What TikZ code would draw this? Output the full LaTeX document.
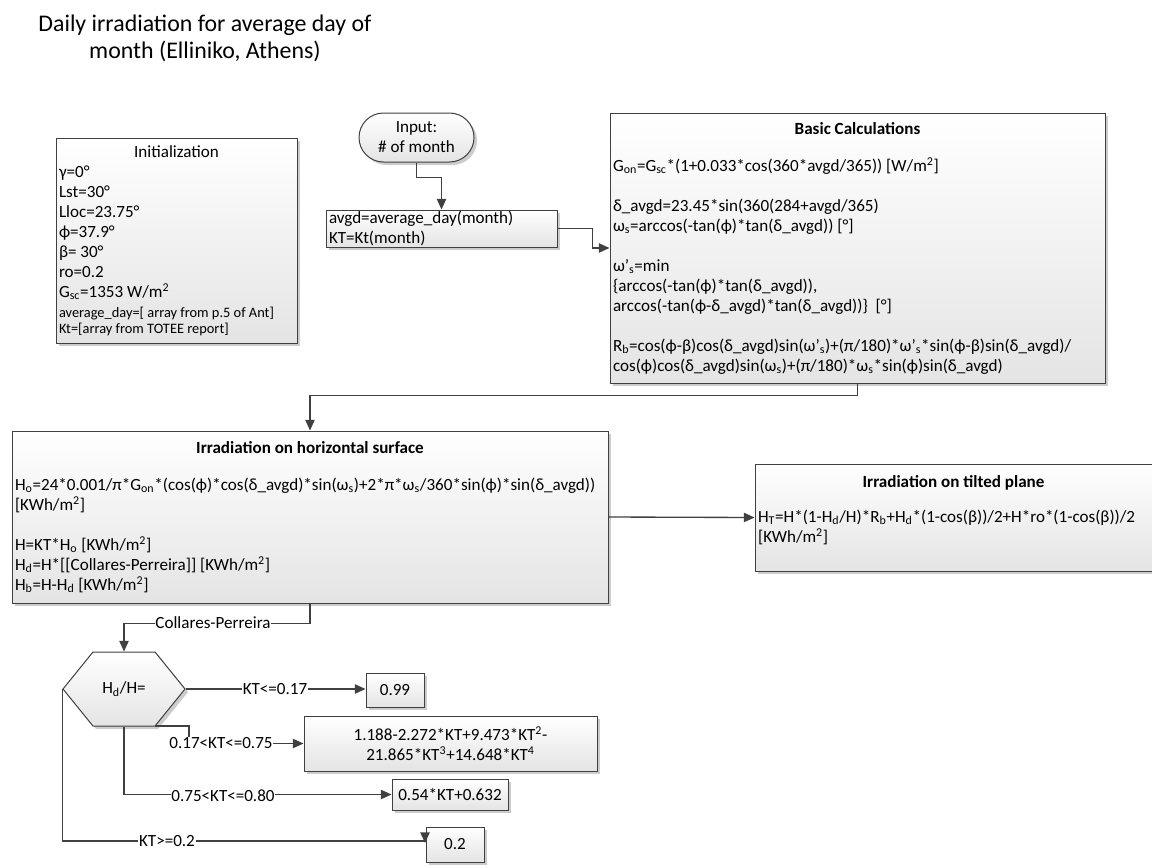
\documentclass[tikz,border=0pt]{standalone}
\usepackage{fontspec}
\setmainfont{Carlito}
\usetikzlibrary{arrows.meta,shapes.misc,shapes.symbols,shadows}
\definecolor{linegray}{HTML}{404040}
\definecolor{fillgray}{HTML}{E4E4E4}
\newcommand{\smalltxt}{\fontsize{10.8}{12}\selectfont}

\begin{document}
\begin{tikzpicture}[x=0.75pt,y=-0.75pt,
  every node/.style={font=\fontsize{12.8}{15}\selectfont,
    execute at begin node={\spaceskip=0pt\xspaceskip=0pt}},
  box/.style={draw=linegray,line width=0.75pt,top color=white,bottom color=fillgray,
    drop shadow={shadow xshift=2.25pt,shadow yshift=-2.25pt,fill=black!40,opacity=0.5},
    inner xsep=2.25pt,inner ysep=0pt,align=left},
  conn/.style={draw=linegray,line width=1pt,-{Triangle[length=8pt,width=7pt]}},
  lbl/.style={fill=white,inner sep=0.5pt}]
\useasboundingbox (0,0) rectangle (1152,867);

% title
\node[font=\fontsize{17.9}{20.25}\selectfont,align=center] (title) at (205,38)
  {Daily irradiation for average day of\\month (Elliniko, Athens)};

% boxes
\node[box,minimum width=180.75pt,minimum height=153.75pt,text width=176.25pt] (init) at (176.5,240.5)
  {\hfill Initialization\hfill\mbox{}\\
   γ=0°\\
   Lst=30°\\
   Lloc=23.75°\\
   ϕ=37.9°\\
   β= 30°\\
   ro=0.2\\
   G\textsubscript{sc}=1353 W/m\textsuperscript{2}\\
   {\smalltxt average\_day=[ array from p.5 of Ant]}\\[-3pt]
   {\smalltxt Kt=[array from TOTEE report]}};
\node[box,shape=rounded rectangle,align=center,minimum width=90.75pt,minimum height=36.75pt] (inp) at (416.5,137.5)
  {Input:\\\# of month};
\node[box,minimum width=173.25pt,minimum height=27.75pt,text width=168.75pt] (avgd) at (441.5,228.5)
  {avgd=average\_day(month)\\KT=Kt(month)};
\node[box,minimum width=371.25pt,minimum height=202.5pt,text width=366.75pt] (calc) at (857.5,248)
  {\hfill\textbf{Basic Calculations}\hfill\mbox{}\\[12.75pt]
   G\textsubscript{on}=G\textsubscript{sc}*(1+0.033*cos(360*avgd/365)) [W/m\textsuperscript{2}]\\[15pt]
   δ\_avgd=23.45*sin(360(284+avgd/365)\\
   ω\textsubscript{s}=arccos(-tan(ϕ)*tan(δ\_avgd)) [°]\\[15pt]
   ω’\textsubscript{s}=min\\
   \{arccos(-tan(ϕ)*tan(δ\_avgd)),\\
   arccos(-tan(ϕ-δ\_avgd)*tan(δ\_avgd))\}~~[°]\\[15pt]
   R\textsubscript{b}=cos(ϕ-β)cos(δ\_avgd)sin(ω’\textsubscript{s})+(π/180)*ω’\textsubscript{s}*sin(ϕ-β)sin(δ\_avgd)/\\
   cos(ϕ)cos(δ\_avgd)sin(ω\textsubscript{s})+(π/180)*ω\textsubscript{s}*sin(ϕ)sin(δ\_avgd)};
\node[box,minimum width=447pt,minimum height=129pt,text width=442.5pt] (hor) at (310,517)
  {\hfill\textbf{Irradiation on horizontal surface}\hfill\mbox{}\\[12.75pt]
   H\textsubscript{o}=24*0.001/π*G\textsubscript{on}*(cos(ϕ)*cos(δ\_avgd)*sin(ω\textsubscript{s})+2*π*ω\textsubscript{s}/360*sin(ϕ)*sin(δ\_avgd))\\
   {[}KWh/m\textsuperscript{2}]\\[15pt]
   H=KT*H\textsubscript{o} [KWh/m\textsuperscript{2}]\\
   H\textsubscript{d}=H*[[Collares-Perreira]] [KWh/m\textsuperscript{2}]\\
   H\textsubscript{b}=H-H\textsubscript{d} [KWh/m\textsuperscript{2}]};
\node[box,minimum width=297.75pt,minimum height=80.25pt,text width=293.25pt] (tilt) at (953.5,517.5)
  {\hfill\textbf{Irradiation on tilted plane}\hfill\mbox{}\\[11.25pt]
   H\textsubscript{T}=H*(1-H\textsubscript{d}/H)*R\textsubscript{b}+H\textsubscript{d}*(1-cos(β))/2+H*ro*(1-cos(β))/2\\
   {[}KWh/m\textsuperscript{2}]\\[-1.5pt]
   \mbox{}};

% decision and values
\node[box,shape=signal,signal to=west and east,signal pointer angle=102,align=center,
  minimum width=91.5pt,minimum height=55.5pt] (hex) at (124,689) {H\textsubscript{d}/H=};
\node[box,align=center,minimum width=43.5pt,minimum height=25.5pt] (v1) at (395,690) {0.99};
\node[box,align=center,minimum width=219.75pt,minimum height=41.25pt] (v2) at (450.5,743.5)
  {1.188-2.272*KT+9.473*KT\textsuperscript{2}-\\21.865*KT\textsuperscript{3}+14.648*KT\textsuperscript{4}};
\node[box,align=center,minimum width=87pt,minimum height=23.25pt] (v3) at (450,794.5) {0.54*KT+0.632};
\node[box,align=center,minimum width=43.5pt,minimum height=26.25pt] (v4) at (455,844.5) {0.2};

\coordinate (hexbr) at (155,726);
\coordinate (kt4) at (425,841);

% connectors
\draw[conn] (inp.south) -- ++(0,15) -| (avgd.north);
\draw[conn] (avgd.east) -- ++(35,0) |- (calc.west);
\draw[conn] (calc.south) -- ++(0,12) -| (hor.north);
\draw[conn] (hor.east) -- (tilt.west);
\draw[conn] (hor.south) -- ++(0,20) -| (hex.north);
\draw[conn] (hex.east) -- (hex.east -| v1.west);
\draw[conn] (hexbr) -- ++(34,0) |- (v2.west);
\draw[conn] (hex.south) |- (v3.west);
\draw[conn] (hex.west) |- (kt4) -- ++(0,2);

% labels
\node[lbl] (lcp) at (213,623) {Collares-Perreira};
\node[lbl] (l1) at (275,689) {KT<=0.17};
\node[lbl] (l2) at (221,743) {0.17<KT<=0.75};
\node[lbl] (l3) at (223,796) {0.75<KT<=0.80};
\node[lbl] (l4) at (167,841) {KT>=0.2};
\end{tikzpicture}
\end{document}
